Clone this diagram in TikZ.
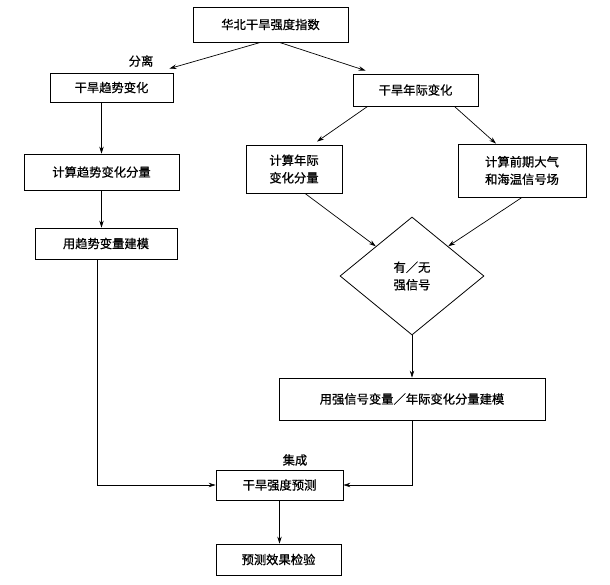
\documentclass[tikz,border=0pt]{standalone}
\usepackage{fontspec}
\setmainfont{Noto Sans CJK SC}[FakeBold=0.8]
\usetikzlibrary{shapes.geometric,arrows.meta,calc}
\begin{document}
\begin{tikzpicture}[x=1pt,y=-1pt,
  box/.style={draw,line width=0.8pt,inner sep=1pt,align=center,font=\fontsize{12.3}{17.5}\selectfont},
  lbl/.style={inner sep=0pt,font=\fontsize{12.3}{17.5}\selectfont},
  arr/.style={line width=0.7pt,-{Stealth[length=7pt,width=4.5pt]}},
  ln/.style={line width=0.7pt}]
\useasboundingbox (0,0) rectangle (610,584);
\node[box,minimum width=155pt,minimum height=35pt] (top) at (270.5,24.5) {华北干旱强度指数};
\node[box,minimum width=123pt,minimum height=29pt] (trend) at (111.5,87.5) {干旱趋势变化};
\node[box,minimum width=125pt,minimum height=32pt] (inter) at (415.5,90) {干旱年际变化};
\node[box,minimum width=155pt,minimum height=36pt] (calctrend) at (101.5,172) {计算趋势变化分量};
\node[box,minimum width=96pt,minimum height=48pt] (calcinter) at (294,169) {计算年际\\变化分量};
\node[box,minimum width=128pt,minimum height=53pt] (calcsig) at (522,170.5) {计算前期大气\\和海温信号场};
\node[box,shape=diamond,aspect=1.22,inner sep=0pt,minimum width=144pt,minimum height=118pt] (dia) at (412,276) {有／无\\强信号};
\node[box,minimum width=142pt,minimum height=31pt] (trendmodel) at (106,243.5) {用趋势变量建模};
\node[box,minimum width=266pt,minimum height=42pt] (sigmodel) at (412,399) {用强信号变量／年际变化分量建模};
\node[box,minimum width=127pt,minimum height=30pt] (pred) at (279.5,485) {干旱强度预测};
\node[box,minimum width=125pt,minimum height=31pt] (check) at (278.5,559.5) {预测效果检验};
\node[lbl] (sep) at (141,61) {分离};
\node[lbl] (integ) at (295,460) {集成};
\draw[arr] ($(top.south)+(-10,0)$) -- ($(trend.north east)+(-4,-4)$);
\draw[arr] ($(top.south)+(9,0)$) -- ($(inter.north west)+(13,-3)$);
\draw[arr] (trend.south -| calctrend.north) -- (calctrend.north);
\draw[arr] (calctrend.south) -- (calctrend.south |- trendmodel.north);
\draw[arr] ($(inter.south west)+(15,0)$) -- ($(calcinter.north)+(23,-3)$);
\draw[arr] ($(inter.south east)+(-24,0)$) -- ($(calcsig.north)+(-26,0)$);
\draw[arr] ($(calcinter.south)+(11,0)$) -- (dia.north west);
\draw[arr] (calcsig.south) -- (dia.north east);
\draw[arr] (dia.south) -- (sigmodel.north);
\draw[arr] (sigmodel.south) |- (pred.east);
\draw[arr] ($(trendmodel.south)+(-9,0)$) |- (pred.west);
\draw[arr] (pred.south) -- (pred.south |- check.north);
\end{tikzpicture}
\end{document}
